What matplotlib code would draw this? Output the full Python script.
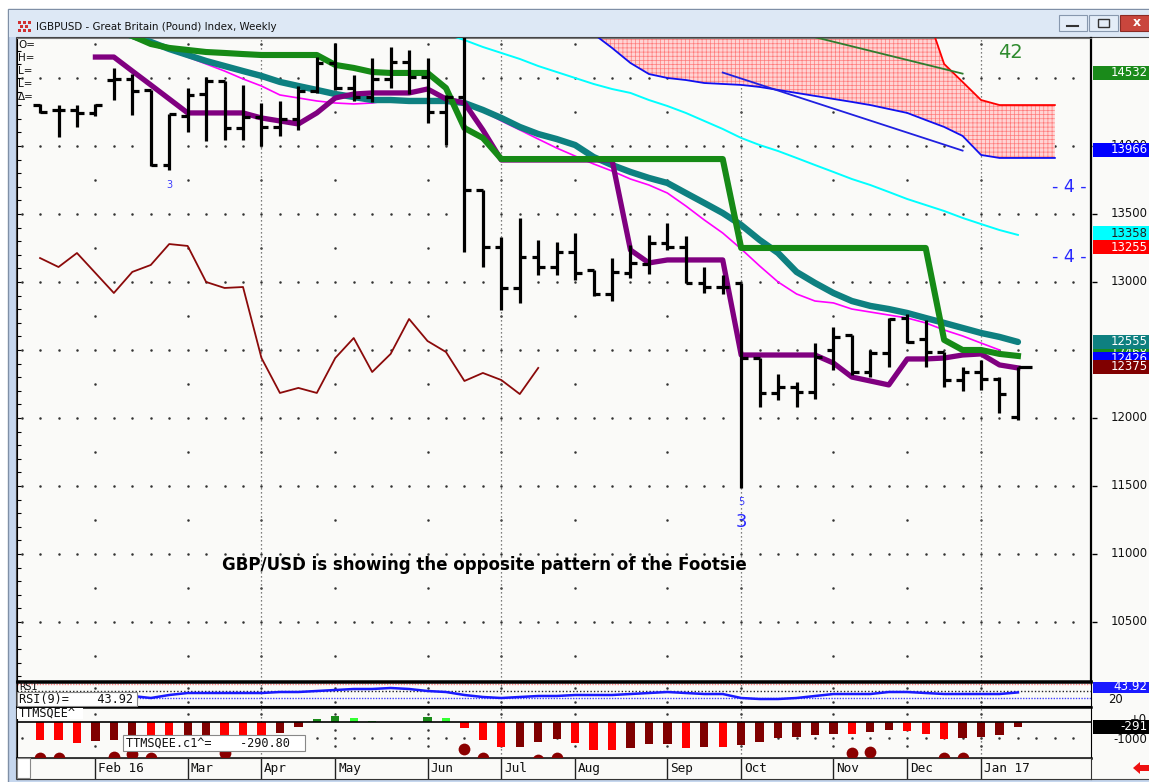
import matplotlib
matplotlib.use('Agg')
import matplotlib.pyplot as plt
import numpy as np
from matplotlib.patches import Rectangle, Polygon

W, H = 1149, 782
plt.rcParams['hatch.linewidth'] = 0.5
plt.rcParams['font.family'] = ['DejaVu Sans']

# weekly GBPUSD index bars, Feb 2016 .. Jan 2017
opens = [14301, 14265, 14265, 14243, 14485, 14493, 14412, 13860, 14221, 14382,
         14478, 14132, 14213, 14140, 14199, 14404, 14610, 14426, 14360, 14493,
         14618, 14507, 14250, 14360, 13676, 13257, 12956, 13184, 13110, 13221,
         13088, 12912, 13066, 13132, 13287, 13257, 12993, 12963, 12993, 12441,
         12184, 12228, 12191, 12500, 12610, 12338, 12478, 12735, 12581, 12485,
         12279, 12338, 12287, 12007]
highs = [14309, 14301, 14301, 14309, 14574, 14529, 14412, 14235, 14426, 14507,
         14478, 14449, 14316, 14331, 14441, 14654, 14757, 14522, 14647, 14728,
         14706, 14647, 14375, 14800, 13676, 13331, 13471, 13309, 13294, 13360,
         13088, 13176, 13272, 13346, 13434, 13338, 13110, 13051, 12993, 12441,
         12324, 12265, 12551, 12669, 12610, 12500, 12735, 12765, 12721, 12485,
         12375, 12426, 12301, 12375]
lows = [14243, 14066, 14140, 14221, 14338, 14228, 13853, 13824, 14103, 14037,
        14044, 14044, 14000, 14074, 14118, 14390, 14412, 14331, 14324, 14426,
        14382, 14169, 14007, 13221, 13110, 12794, 12846, 13051, 13051, 13015,
        12897, 12860, 13029, 13059, 13235, 12993, 12919, 12912, 11485, 12081,
        12132, 12081, 12140, 12353, 12316, 12301, 12375, 12551, 12375, 12228,
        12199, 12206, 12037, 11985]
closes = [14250, 14265, 14243, 14301, 14493, 14404, 13860, 14235, 14375, 14478,
          14132, 14213, 14140, 14199, 14404, 14610, 14426, 14360, 14493, 14618,
          14507, 14250, 14360, 13676, 13257, 12956, 13184, 13110, 13221, 13066,
          12912, 13074, 13140, 13287, 13257, 12993, 12963, 12963, 12441, 12184,
          12228, 12191, 12449, 12596, 12338, 12478, 12728, 12559, 12485, 12279,
          12338, 12287, 12176, 12375]

purple_start = 3
purple = [14654, 14654, 14551, 14449, 14346, 14243, 14243, 14243, 14243, 14206,
          14184, 14162, 14243, 14353, 14382, 14390, 14390, 14390, 14419, 14346,
          14316, 14118, 13897, 13897, 13897, 13897, 13897, 13897, 13897, 13235,
          13140, 13162, 13162, 13162, 13162, 12463, 12463, 12463, 12463, 12463,
          12404, 12301, 12272, 12243, 12434, 12434, 12441, 12463, 12471, 12390,
          12368]
green_start = 4
green = [14853, 14809, 14750, 14721, 14706, 14691, 14684, 14676, 14669, 14669,
         14669, 14669, 14596, 14574, 14544, 14537, 14537, 14537, 14426, 14132,
         14059, 13904, 13904, 13904, 13904, 13904, 13904, 13904, 13904, 13904,
         13904, 13904, 13904, 13904, 13250, 13250, 13250, 13250, 13250, 13250,
         13250, 13250, 13250, 13250, 13250, 12574, 12500, 12500, 12471, 12456]
teal_start = 4
teal = [14853, 14809, 14765, 14713, 14669, 14625, 14588, 14551, 14515, 14471,
        14441, 14412, 14382, 14360, 14338, 14338, 14331, 14331, 14331, 14316,
        14265, 14206, 14140, 14088, 14051, 14007, 13919, 13860, 13809, 13765,
        13728, 13654, 13581, 13507, 13419, 13309, 13213, 13074, 12993, 12919,
        12860, 12824, 12801, 12772, 12735, 12699, 12662, 12625, 12596, 12559]
magenta_start = 5
magenta = [14794, 14743, 14706, 14654, 14603, 14551, 14493, 14441, 14375, 14353,
           14331, 14316, 14309, 14316, 14338, 14338, 14338, 14331, 14309, 14257,
           14184, 14118, 14051, 13985, 13926, 13868, 13816, 13757, 13713, 13654,
           13559, 13456, 13360, 13243, 13118, 13000, 12912, 12860, 12846, 12801,
           12779, 12757, 12735, 12699, 12647, 12603, 12551, 12500]
cyan_start = 22
cyan = [14824, 14779, 14728, 14684, 14640, 14588, 14544, 14500, 14456, 14419,
        14390, 14338, 14294, 14243, 14184, 14125, 14059, 14007, 13963, 13912,
        13860, 13809, 13757, 13713, 13662, 13610, 13566, 13522, 13471, 13426,
        13382, 13346]
cloud_start = 30
cloud_top = [15000, 15000, 15000, 15000, 15000, 15000, 15000, 15000, 15000, 15000,
             15000, 15000, 15000, 15000, 15000, 15000, 15000, 15000, 15000, 14603,
             14471, 14338, 14301, 14301, 14301, 14301]
cloud_bottom = [14824, 14721, 14610, 14529, 14500, 14485, 14463, 14456, 14449, 14434,
                14412, 14390, 14368, 14346, 14324, 14301, 14272, 14243, 14191, 14140,
                14074, 13934, 13912, 13912, 13912, 13912]
thin_green_x = [42, 50]
thin_green = [14800, 14532]
thin_blue_x = [37, 50]
thin_blue = [14540, 13966]
footsie = [13176, 13110, 13213, 13066, 12919, 13074, 13125, 13279, 13265, 13000,
           12956, 12963, 12441, 12184, 12221, 12184, 12441, 12588, 12338, 12471,
           12728, 12566, 12485, 12272, 12331, 12279, 12176, 12368]

rsi_start = 5
rsi = [28.6, 20.0, 32.9, 41.4, 41.4, 41.4, 41.4, 41.4, 45.7, 45.7,
       50.0, 54.3, 58.6, 58.6, 62.9, 58.6, 50.0, 45.7, 32.9, 24.3,
       20.0, 24.3, 28.6, 28.6, 32.9, 32.9, 32.9, 37.1, 41.4, 45.7,
       41.4, 37.1, 37.1, 20.0, 15.7, 15.7, 20.0, 28.6, 37.1, 37.1,
       37.1, 45.7, 45.7, 41.4, 37.1, 37.1, 37.1, 37.1, 43.92]

ttm = [-1106, -1106, -1294, -1169, -1106, -1050, -1000, -980, -980, -980,
       -919, -919, -794, -669, -294, 188, 394, 288, 81, 38,
       40, 350, 250, -375, -1106, -1525, -1525, -1213, -1044, -1275,
       -1731, -1731, -1606, -1375, -1375, -1625, -1563, -1563, -1419, -1250,
       -1000, -900, -813, -750, -750, -588, -481, -544, -750, -1063,
       -1000, -900, -813, -291]
ttm_codes = 'rrrdddrrddrrrddggllllgl' + 'rrrdddrrrdddrdrddddd' + 'drddrrrdddd'
ttm_palette = {'r': '#ff0000', 'd': '#800000', 'g': '#1a8a1a', 'l': '#33ff33'}
dot_bars = [0, 1, 4, 5, 6, 10, 23, 24, 27, 28, 44, 45, 49, 50]
dot_vals = [-2231, -2231, -2170, -1950, -2231, -1890, -1669, -2231, -2350, -2231,
            -1919, -1856, -2231, -2231]

months = ['Feb 16', 'Mar', 'Apr', 'May', 'Jun', 'Jul', 'Aug', 'Sep', 'Oct', 'Nov', 'Dec', 'Jan 17']
month_start = [3, 8, 12, 16, 21, 25, 29, 34, 38, 43, 47, 51]
quarter_start = [12, 25, 38, 51]

# 12500 and 14500 sit fully under the badges in the reference
price_labels = [10500, 11000, 11500, 12000, 13000, 13500, 14000]
badge_vals = [14532, 13966, 13358, 13255, 12468, 12426, 12555, 12375]
badge_cols = ['#1a8a1a', '#0000ff', '#00ffff', '#ff0000', '#1a8a1a', '#0000ff', '#0e8080', '#800000']
badge_txt = ['white', 'white', '#202020', 'white', 'white', 'white', 'white', 'white']
badge_pos = [14537, 13971, 13360, 13257, 12478, 12434, 12559, 12375]

XLIM = (-1.25, 56.96)
PLIM = (10066, 14794)
BG = '#fafaf8'


def frac(x0, y0, x1, y1):
    return [x0 / W, 1 - y1 / H, (x1 - x0) / W, (y1 - y0) / H]


def dot_row(axis, xs, level):
    axis.plot(xs, [level] * len(xs), ls='none', marker='s', ms=0.75, color='#333', zorder=1)


fig = plt.figure(figsize=(W / 100, H / 100), dpi=100, facecolor='white')

# window chrome
bg = fig.add_axes([0, 0, 1, 1], zorder=0)
bg.set_xlim(0, W)
bg.set_ylim(H, 0)
bg.axis('off')
bg.add_patch(Rectangle((8, 9), W, H, facecolor='#c6d7ee', edgecolor='#7f8fa6', lw=1))
bg.add_patch(Rectangle((9, 10), W, 27, facecolor='#dde8f5', edgecolor='none'))
bg.add_patch(Rectangle((16, 37), W, 742, facecolor=BG, edgecolor='#444', lw=0.8))
for dx, dy in [(0, 0), (5, 0), (10, 0), (2, 4), (7, 4), (0, 8), (5, 8), (10, 8)]:
    bg.add_patch(Rectangle((18 + dx, 21 + dy), 3, 3, facecolor='#d03030', edgecolor='none'))
bg.text(36, 27, 'IGBPUSD - Great Britain (Pound) Index, Weekly', fontsize=7.4,
        va='center', ha='left', color='#111')
bg.add_patch(Rectangle((1059, 15), 28, 16, facecolor='#e4edf8', edgecolor='#8798ae', lw=0.8))
bg.plot([1067, 1078], [26, 26], color='#333', lw=1.5)
bg.add_patch(Rectangle((1089, 15), 29, 16, facecolor='#e4edf8', edgecolor='#8798ae', lw=0.8))
bg.add_patch(Rectangle((1098, 19), 11, 8, facecolor='none', edgecolor='#333', lw=1))
bg.add_patch(Rectangle((1120, 15), 40, 16, facecolor='#c9463d', edgecolor='#8b2b25', lw=0.8))
bg.text(1137, 23, 'x', color='white', fontsize=9, fontweight='bold', ha='center', va='center')

# main price pane
ax = fig.add_axes(frac(17, 38, 1091, 681), zorder=2)
ax.set_facecolor(BG)
ax.set_xlim(*XLIM)
ax.set_ylim(*PLIM)
ax.set_xticks([])
ax.set_yticks(np.arange(10100, 14800, 100))
ax.tick_params(axis='y', direction='in', length=3, width=0.8, labelleft=False)
for s in ['left', 'bottom', 'right']:
    ax.spines[s].set_color('black')
ax.spines['right'].set_linewidth(1.6)
ax.spines['bottom'].set_linewidth(1.8)
ax.spines['top'].set_color('#777')

for lvl in range(10250, 15000, 250):
    dot_row(ax, np.arange(-1, 57) if lvl % 500 == 0 else np.array(month_start), lvl)
for q in quarter_start:
    ax.axvline(q, color='#555', lw=0.9, ls=(0, (1, 2.2)), zorder=1)

cx = np.arange(cloud_start, cloud_start + len(cloud_top))
ax.fill_between(cx, cloud_bottom, cloud_top, facecolor='#ffd4d4', edgecolor='#ff7a7a',
                hatch='++++', linewidth=0, zorder=2)
ax.plot(cx, cloud_top, color='#ff0000', lw=1.3, zorder=3)
ax.plot(cx, cloud_bottom, color='#1010f0', lw=1.3, zorder=3)
ax.plot(thin_green_x, thin_green, color='#2e7d2e', lw=1.3, zorder=3)
ax.plot(thin_blue_x, thin_blue, color='#2020e0', lw=1.3, zorder=3)

ax.plot(np.arange(cyan_start, cyan_start + len(cyan)), cyan, color='#00ffff', lw=1.4, zorder=3)
ax.plot(np.arange(magenta_start, magenta_start + len(magenta)), magenta, color='#ff00ff',
        lw=1.2, zorder=3)
ax.plot(np.arange(len(footsie)), footsie, color='#8b0a0a', lw=1.3, zorder=3)
ax.plot(np.arange(teal_start, teal_start + len(teal)), teal, color='#0e8080', lw=4.6,
        zorder=4, solid_capstyle='round')
ax.plot(np.arange(purple_start, purple_start + len(purple)), purple, color='#800080', lw=3.8,
        zorder=4.5)
ax.plot(np.arange(green_start, green_start + len(green)), green, color='#168a16', lw=4.4,
        zorder=5)

x = np.arange(len(opens))
ax.vlines(x, lows, highs, color='black', lw=2.3, zorder=6)
ax.hlines(opens, x - 0.36, x, color='black', lw=2.3, zorder=6)
ax.hlines(closes[:-1], x[:-1], x[:-1] + 0.36, color='black', lw=2.3, zorder=6)
ax.hlines(closes[-1], x[-1], x[-1] + 0.75, color='black', lw=2.3, zorder=6)

ax.text(7, 13713, '3', color='#3c3cff', fontsize=7, ha='center', va='center', zorder=7)
ax.text(38, 11382, '5', color='#3c3cff', fontsize=7, ha='center', va='center', zorder=7)
ax.text(38, 11235, '3', color='#2828ff', fontsize=13, ha='center', va='center', zorder=7)
ax.text(55.8, 13699, '- 4 -', color='#2828ff', fontsize=12.5, ha='center', va='center', zorder=7)
ax.text(55.8, 13184, '- 4 -', color='#2828ff', fontsize=12.5, ha='center', va='center', zorder=7)
ax.text(52.6, 14691, '42', color='#2e8b2e', fontsize=14, ha='center', va='center', zorder=7)
ax.text(24.07, 10919, 'GBP/USD is showing the opposite pattern of the Footsie',
        fontsize=12, fontweight='bold', ha='center', va='center', zorder=7)

# right price scale
axr = fig.add_axes(frac(1092, 38, 1149, 681), zorder=2)
axr.set_facecolor(BG)
axr.set_xlim(0, 1)
axr.set_ylim(*PLIM)
axr.axis('off')
axr.hlines(price_labels, 0, 0.08, color='black', lw=1)
for p in price_labels:
    axr.text(0.97, p, str(p), fontsize=8.4, ha='right', va='center', color='#111')
hb = 100
for i, (v, c, t, pos) in enumerate(zip(badge_vals, badge_cols, badge_txt, badge_pos)):
    axr.add_patch(Rectangle((0.02, pos - hb / 2), 1.0, hb, facecolor=c, edgecolor='none',
                            zorder=10 + 2 * i))
    axr.text(0.97, pos, str(v), fontsize=8.4, ha='right', va='center', color=t, zorder=11 + 2 * i)

# RSI pane
axs = fig.add_axes(frac(17, 682, 1091, 706), zorder=2)
axs.set_facecolor(BG)
axs.set_xlim(*XLIM)
axs.set_ylim(-14.3, 88.6)
axs.set_xticks([])
axs.set_yticks([])
for s in axs.spines.values():
    s.set_color('black')
axs.spines['top'].set_linewidth(1.8)
axs.axhline(80, color='#ff8080', lw=1, ls=(0, (1, 1)))
axs.axhline(50, color='#222', lw=1, ls=(0, (1, 1.5)))
axs.axhline(20, color='#4040ff', lw=1, ls=(0, (1, 1)))
for lvl in [62.5, 2.5]:
    dot_row(axs, month_start, lvl)
for q in quarter_start:
    axs.axvline(q, color='#555', lw=0.9, ls=(0, (1, 2.2)))
axs.plot(np.arange(rsi_start, rsi_start + len(rsi)), rsi, color='#1a1aff', lw=1.8)

axsr = fig.add_axes(frac(1092, 682, 1149, 706), zorder=2)
axsr.set_facecolor(BG)
axsr.set_xlim(0, 1)
axsr.set_ylim(-14.3, 88.6)
axsr.axis('off')
axsr.text(0.55, 14, '20', fontsize=8.4, ha='right', va='center', color='#111')
axsr.add_patch(Rectangle((0.02, 41), 1.0, 60, facecolor='#1a1aff', edgecolor='none', zorder=5))
axsr.text(0.97, 70, '43.92', fontsize=8.6, ha='right', va='center', color='white', zorder=6)

# TTM squeeze pane
axq = fig.add_axes(frac(17, 707, 1091, 758), zorder=2)
axq.set_facecolor(BG)
axq.set_xlim(*XLIM)
axq.set_ylim(-2231, 956)
axq.set_xticks([])
axq.set_yticks([])
for s in axq.spines.values():
    s.set_color('black')
axq.spines['top'].set_linewidth(1.8)
axq.spines['bottom'].set_linewidth(1.8)
for lvl in [500, -500, -1500]:
    dot_row(axq, month_start, lvl)
dot_row(axq, np.arange(-1, 57), -1000)
for q in quarter_start:
    axq.axvline(q, color='#555', lw=0.9, ls=(0, (1, 2.2)))
axq.bar(x, ttm, width=0.45, color=[ttm_palette[c] for c in ttm_codes], zorder=3)
axq.axhline(0, color='black', lw=1.2, zorder=4)
axq.scatter(dot_bars, dot_vals, s=72, color='#8b0000', zorder=5, linewidths=0)

axqr = fig.add_axes(frac(1092, 707, 1149, 758), zorder=2)
axqr.set_facecolor(BG)
axqr.set_xlim(0, 1)
axqr.set_ylim(-2231, 956)
axqr.axis('off')
axqr.text(0.97, 200, '+0', fontsize=8.4, ha='right', va='center', color='#111')
axqr.text(0.97, -1050, '-1000', fontsize=8.4, ha='right', va='center', color='#111')
axqr.add_patch(Rectangle((0.02, -291 - 420), 1.0, 840, facecolor='black', edgecolor='none', zorder=5))
axqr.text(0.97, -291, '-291', fontsize=8.6, ha='right', va='center', color='white', zorder=6)

# time axis
axx = fig.add_axes(frac(17, 758, 1091, 779), zorder=2)
axx.set_facecolor(BG)
axx.set_xlim(*XLIM)
axx.set_ylim(0, 1)
axx.set_xticks([])
axx.set_yticks([])
for s in axx.spines.values():
    s.set_color('#333')
axx.vlines(month_start, 0, 1, color='#222', lw=1)
for m, b in zip(months, month_start):
    axx.annotate(m, (b, 0.5), xytext=(2, 0), textcoords='offset points', va='center', ha='left',
                 family='DejaVu Sans Mono', fontsize=9.2, color='#111')

# labels drawn on top in pixel units
top = fig.add_axes([0, 0, 1, 1], zorder=10)
top.set_xlim(0, W)
top.set_ylim(H, 0)
top.axis('off')
for i, lab in enumerate(['O=', 'H=', 'L=', 'L=', '\u0394=']):
    top.text(18, 45 + 13 * i, lab, fontsize=7.5, va='center', ha='left', color='#111')
top.text(19, 687, 'RSI', fontsize=7.5, va='center', family='DejaVu Sans Mono', color='#111')
top.add_patch(Rectangle((17, 692), 120, 14, facecolor='white', edgecolor='#888', lw=0.8))
top.text(19, 699.5, 'RSI(9)=    43.92', fontsize=8.6, va='center', family='DejaVu Sans Mono',
         color='#111')
top.add_patch(Rectangle((17, 707.5), 66, 11, facecolor='white', edgecolor='none'))
top.text(19, 713, 'TTMSQEE^', fontsize=8.6, va='center', family='DejaVu Sans Mono', color='#111')
top.add_patch(Rectangle((123, 735), 182, 16, facecolor='white', edgecolor='#888', lw=0.8))
top.text(126, 743.5, 'TTMSQEE.c1^=    -290.80', fontsize=8.6, va='center',
         family='DejaVu Sans Mono', color='#111')
top.add_patch(Rectangle((17, 758), 13, 20, facecolor='white', edgecolor='#888', lw=0.8))
top.add_patch(Polygon([(1133, 768), (1140, 762), (1140, 765), (1149, 765), (1149, 771),
                       (1140, 771), (1140, 774)], closed=True, facecolor='#ee1111',
                      edgecolor='none'))

fig.savefig('out.png', dpi=100)
